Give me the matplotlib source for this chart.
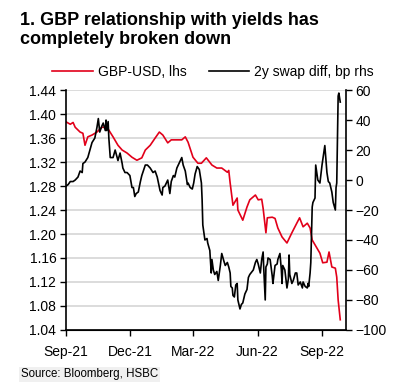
import pandas as pd
import matplotlib.pyplot as plt
import matplotlib.dates as mdates
from matplotlib.ticker import FormatStrFormatter, MultipleLocator

plt.rcParams["font.family"] = ["Liberation Sans", "DejaVu Sans"]

# GBP-USD (left axis)
gbp_dates = [
    "2021-09-01", "2021-09-07", "2021-09-11", "2021-09-14", "2021-09-21", "2021-09-25",
    "2021-09-28", "2021-10-02", "2021-10-08", "2021-10-15", "2021-10-22", "2021-10-27",
    "2021-10-31", "2021-11-07", "2021-11-14", "2021-11-20", "2021-11-27", "2021-12-04",
    "2021-12-11", "2021-12-18", "2021-12-23", "2021-12-30", "2022-01-06", "2022-01-12",
    "2022-01-17", "2022-01-24", "2022-01-29", "2022-02-06", "2022-02-13", "2022-02-18",
    "2022-02-22", "2022-03-01", "2022-03-08", "2022-03-13", "2022-03-20", "2022-03-28",
    "2022-04-04", "2022-04-11", "2022-04-19", "2022-04-21", "2022-04-23", "2022-04-27",
    "2022-05-03", "2022-05-04", "2022-05-11", "2022-05-17", "2022-05-21", "2022-05-29",
    "2022-06-02", "2022-06-07", "2022-06-09", "2022-06-13", "2022-06-15", "2022-06-22",
    "2022-06-26", "2022-06-30", "2022-07-06", "2022-07-13", "2022-07-20", "2022-07-27",
    "2022-07-31", "2022-08-05", "2022-08-11", "2022-08-15", "2022-08-18", "2022-08-22",
    "2022-08-29", "2022-09-02", "2022-09-08", "2022-09-11", "2022-09-15", "2022-09-20",
    "2022-09-22", "2022-09-24", "2022-09-27",
]
gbp_values = [
    1.387, 1.383, 1.386, 1.378, 1.370, 1.368,
    1.348, 1.362, 1.365, 1.370, 1.378, 1.378,
    1.375, 1.362, 1.348, 1.340, 1.335, 1.328,
    1.323, 1.327, 1.340, 1.348, 1.360, 1.370,
    1.365, 1.352, 1.357, 1.357, 1.357, 1.362,
    1.353, 1.328, 1.318, 1.318, 1.327, 1.315,
    1.310, 1.310, 1.303, 1.306, 1.285, 1.248,
    1.260, 1.240, 1.223, 1.245, 1.257, 1.265,
    1.257, 1.258, 1.243, 1.202, 1.227, 1.228,
    1.226, 1.210, 1.195, 1.185, 1.202, 1.218,
    1.227, 1.212, 1.218, 1.210, 1.190, 1.182,
    1.168, 1.152, 1.153, 1.170, 1.145, 1.143,
    1.128, 1.090, 1.057,
]

# 2y swap differential, bp (right axis)
swap_dates = [
    "2021-09-01", "2021-09-04", "2021-09-07", "2021-09-11", "2021-09-14", "2021-09-18",
    "2021-09-21", "2021-09-24", "2021-09-25", "2021-09-28", "2021-10-02", "2021-10-05",
    "2021-10-08", "2021-10-12", "2021-10-15", "2021-10-17", "2021-10-19", "2021-10-22",
    "2021-10-24", "2021-10-27", "2021-10-28", "2021-10-29", "2021-10-31", "2021-11-01",
    "2021-11-03", "2021-11-07", "2021-11-10", "2021-11-14", "2021-11-17", "2021-11-20",
    "2021-11-21", "2021-11-24", "2021-11-27", "2021-12-01", "2021-12-04", "2021-12-06",
    "2021-12-08", "2021-12-10", "2021-12-13", "2021-12-16", "2021-12-18", "2021-12-23",
    "2021-12-26", "2021-12-30", "2022-01-03", "2022-01-06", "2022-01-09", "2022-01-13",
    "2022-01-16", "2022-01-17", "2022-01-20", "2022-01-24", "2022-01-27", "2022-01-29",
    "2022-02-01", "2022-02-03", "2022-02-06", "2022-02-11", "2022-02-13", "2022-02-15",
    "2022-02-18", "2022-02-21", "2022-02-22", "2022-02-25", "2022-02-28", "2022-03-02",
    "2022-03-04", "2022-03-07", "2022-03-10", "2022-03-13", "2022-03-14", "2022-03-15",
    "2022-03-18", "2022-03-21", "2022-03-22", "2022-03-25", "2022-03-27", "2022-03-28",
    "2022-03-30", "2022-04-01", "2022-04-04", "2022-04-06", "2022-04-09", "2022-04-11",
    "2022-04-14", "2022-04-16", "2022-04-19", "2022-04-21", "2022-04-23", "2022-04-24",
    "2022-04-26", "2022-04-27", "2022-04-29", "2022-05-01", "2022-05-03", "2022-05-04",
    "2022-05-06", "2022-05-07", "2022-05-09", "2022-05-11", "2022-05-14", "2022-05-17",
    "2022-05-19", "2022-05-21", "2022-05-26", "2022-05-29", "2022-05-31", "2022-06-02",
    "2022-06-05", "2022-06-07", "2022-06-09", "2022-06-10", "2022-06-12", "2022-06-13",
    "2022-06-15", "2022-06-16", "2022-06-19", "2022-06-22", "2022-06-23", "2022-06-26",
    "2022-06-29", "2022-06-30", "2022-07-03", "2022-07-05", "2022-07-06", "2022-07-07",
    "2022-07-10", "2022-07-13", "2022-07-15", "2022-07-16", "2022-07-17", "2022-07-20",
    "2022-07-22", "2022-07-25", "2022-07-27", "2022-07-29", "2022-08-01", "2022-08-04",
    "2022-08-05", "2022-08-08", "2022-08-11", "2022-08-12", "2022-08-13", "2022-08-15",
    "2022-08-16", "2022-08-18", "2022-08-19", "2022-08-22", "2022-08-23", "2022-08-26",
    "2022-08-29", "2022-09-01", "2022-09-05", "2022-09-08", "2022-09-10", "2022-09-12",
    "2022-09-15", "2022-09-17", "2022-09-20", "2022-09-21", "2022-09-22", "2022-09-24",
    "2022-09-25", "2022-09-27",
]
swap_values = [
    -4, -3, -1, -1, 0, 2,
    6, 5, 11, 12, 15, 20,
    25, 28, 35, 41, 32, 36,
    38, 33, 40, 33, 39, 28,
    15, 15, 20, 13, 18, 11,
    8, 5, 5, 3, -5, -5,
    -11, -9, -8, -1, 3, 10,
    10, 8, 5, 6, 2, -7,
    -10, -5, -4, 0, -9, -1,
    3, 2, 8, 13, 15, 10,
    6, -3, -2, -5, -6, -2,
    4, 9, 7, -2, -13, -30,
    -40, -39, -42, -47, -62, -53,
    -60, -63, -61, -67, -57, -49,
    -54, -57, -55, -58, -62, -71,
    -72, -77, -78, -70, -69, -80,
    -84, -86, -83, -82, -76, -73,
    -65, -63, -60, -55, -53, -56,
    -62, -53, -48, -60, -80, -58,
    -56, -52, -53, -64, -69, -57,
    -56, -53, -49, -60, -69, -57,
    -60, -72, -66, -50, -63, -69,
    -67, -62, -62, -70, -68, -72,
    -68, -71, -72, -69, -71, -62,
    -55, -18, -15, -12, 10, 0,
    -2, 10, 23, 5, -1, -2,
    -8, -15, -20, -5, -2, 56,
    58, 52,
]

tick_dates = ["2021-09-01", "2021-12-01", "2022-03-01", "2022-06-01", "2022-09-01"]

RED = "#e2001a"


def main():
    gbp = pd.Series(gbp_values, index=pd.to_datetime(gbp_dates))
    swap = pd.Series(swap_values, index=pd.to_datetime(swap_dates))

    fig = plt.figure(figsize=(3.98, 3.90), dpi=100)
    ax = fig.add_axes([0.166, 0.154, 0.703, 0.615])
    ax2 = ax.twinx()

    ax.plot(gbp.index, gbp.values, color=RED, lw=1.2, label="GBP-USD, lhs")
    ax2.plot(swap.index, swap.values, color="black", lw=1.2, label="2y swap diff, bp rhs")

    ax.set_ylim(1.04, 1.44)
    ax.yaxis.set_major_locator(MultipleLocator(0.04))
    ax.yaxis.set_major_formatter(FormatStrFormatter("%.2f"))
    ax2.set_ylim(-100, 60)
    ax2.yaxis.set_major_locator(MultipleLocator(20))

    ax.set_xlim(pd.Timestamp("2021-09-01"), pd.Timestamp("2022-10-05"))
    ax.set_xticks(pd.to_datetime(tick_dates))
    ax.xaxis.set_major_formatter(mdates.DateFormatter("%b-%y"))

    ax.grid(axis="y", color="#d9d9d9", lw=1.3)
    ax.set_axisbelow(True)

    for a in (ax, ax2):
        a.spines["top"].set_visible(False)
        a.tick_params(labelsize=10, length=4, width=1, color="black", pad=3)
    ax.spines["right"].set_visible(False)
    ax2.spines["left"].set_visible(False)
    ax2.spines["right"].set_linewidth(1.2)
    ax.spines["left"].set_linewidth(1.2)
    ax.spines["bottom"].set_linewidth(1.2)
    ax.tick_params(axis="x", pad=7)

    fig.text(0.05, 0.968, "1. GBP relationship with yields has\ncompletely broken down",
             fontsize=13, fontweight="bold", va="top", ha="left", linespacing=1.15)

    h1, l1 = ax.get_legend_handles_labels()
    h2, l2 = ax2.get_legend_handles_labels()
    fig.legend(h1 + h2, l1 + l2, loc="center", bbox_to_anchor=(0.535, 0.815), ncol=2,
               frameon=False, fontsize=10, handlelength=2.9, columnspacing=1.6,
               handletextpad=0.35)

    fig.text(0.052, 0.04, "Source: Bloomberg, HSBC", fontsize=8.3, ha="left", va="center",
             bbox=dict(boxstyle="square,pad=0.15", fc="#f0f0f0", ec="none"))

    fig.savefig("out.png", dpi=100)
    plt.close(fig)


if __name__ == "__main__":
    main()
